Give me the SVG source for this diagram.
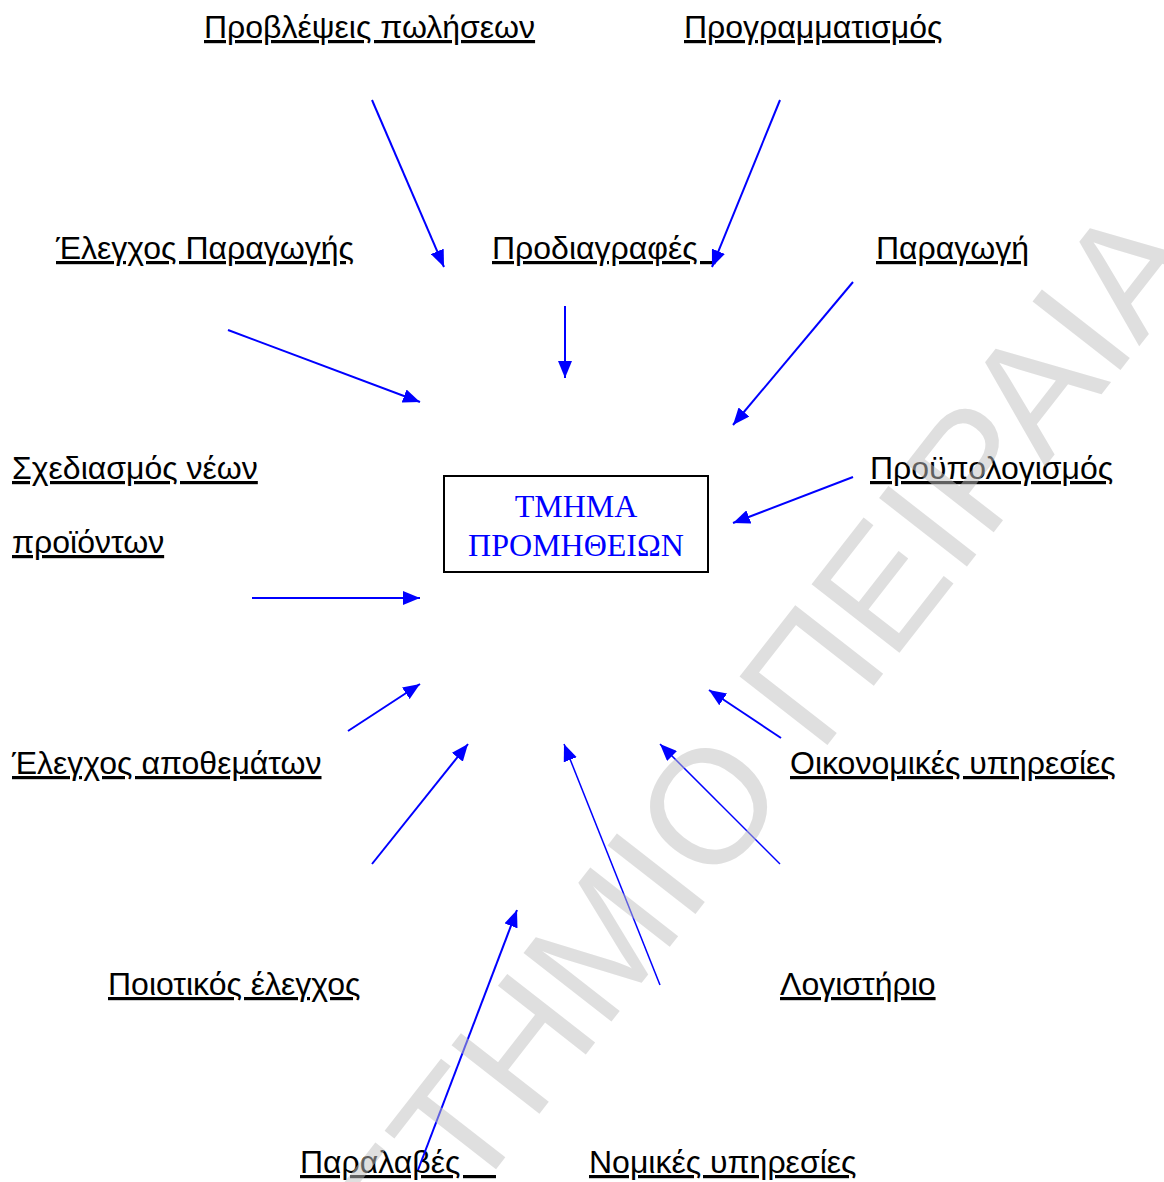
<svg xmlns="http://www.w3.org/2000/svg" width="1164" height="1182" viewBox="0 0 1164 1182">
<defs>
<style>
.lbl{font-family:"Liberation Sans",Arial,sans-serif;font-size:32px;fill:#000;text-decoration:underline;white-space:pre}
.box{fill:#fff;stroke:#000;stroke-width:2}
.boxt{font-family:"Liberation Serif","Times New Roman",serif;font-size:32px;fill:#0000ff;text-anchor:middle}
.c{stroke:#0000ff;stroke-width:2;fill:none;marker-end:url(#ah)}
.t{stroke-width:1.5}
.wm{font-family:"Liberation Sans",Arial,sans-serif;font-size:162px;fill:#c0c0c0;opacity:0.5}
</style>
<marker id="ah" viewBox="0 0 17 14" refX="17" refY="7" markerWidth="17" markerHeight="14" markerUnits="userSpaceOnUse" orient="auto">
<path d="M0,0 L17,7 L0,14 z" fill="#0000ff"/>
</marker>
</defs>
<rect width="1164" height="1182" fill="#fff"/>
<g id="center">
<rect class="box" x="444" y="476" width="264" height="96"/>
<text class="boxt" x="576" y="517">ΤΜΗΜΑ</text>
<text class="boxt" x="576" y="556">ΠΡΟΜΗΘΕΙΩΝ</text>
</g>
<g id="n1"><text class="lbl" x="204" y="38">Προβλέψεις πωλήσεων</text></g>
<g id="n2"><text class="lbl" x="684" y="38">Προγραμματισμός</text></g>
<g id="n3"><text class="lbl" x="56" y="259">Έλεγχος Παραγωγής</text></g>
<g id="n4"><text class="lbl" x="492" y="259">Προδιαγραφές  </text></g>
<g id="n5"><text class="lbl" x="876" y="259">Παραγωγή</text></g>
<g id="n6"><text class="lbl" x="12" y="479">Σχεδιασμός νέων</text><text class="lbl" x="12" y="553">προϊόντων</text></g>
<g id="n7"><text class="lbl" x="870" y="479">Προϋπολογισμός</text></g>
<g id="n8"><text class="lbl" x="12" y="774">Έλεγχος αποθεμάτων</text></g>
<g id="n9"><text class="lbl" x="790" y="774">Οικονομικές υπηρεσίες</text></g>
<g id="n10"><text class="lbl" x="108" y="995">Ποιοτικός έλεγχος</text></g>
<g id="n11"><text class="lbl" x="780" y="995">Λογιστήριο</text></g>
<g id="n12"><text class="lbl" x="300" y="1173">Παραλαβές    </text></g>
<g id="n13"><text class="lbl" x="589" y="1173">Νομικές υπηρεσίες</text></g>
<g id="connectors">
<line class="c" x1="372" y1="100" x2="444" y2="267"/>
<line class="c" x1="780" y1="100" x2="712" y2="267"/>
<line class="c" x1="565" y1="306" x2="565" y2="378"/>
<line class="c" x1="228" y1="330" x2="420" y2="402"/>
<line class="c" x1="853" y1="282" x2="733" y2="425"/>
<line class="c" x1="853" y1="477" x2="733" y2="523"/>
<line class="c" x1="252" y1="598" x2="420" y2="598"/>
<line class="c" x1="348" y1="731" x2="420" y2="684"/>
<line class="c" x1="781" y1="738" x2="709" y2="690"/>
<line class="c" x1="372" y1="864" x2="468" y2="744"/>
<line class="c t" x1="660" y1="985" x2="564" y2="744"/>
<line class="c t" x1="780" y1="864" x2="660" y2="744"/>
<line class="c" x1="418" y1="1170" x2="517" y2="910"/>
</g>
<text class="wm" transform="translate(707,805) rotate(-52)" x="-1171" y="58">ΠΑΝΕΠΙΣΤΗΜΙΟ ΠΕΙΡΑΙΑ</text>
</svg>
